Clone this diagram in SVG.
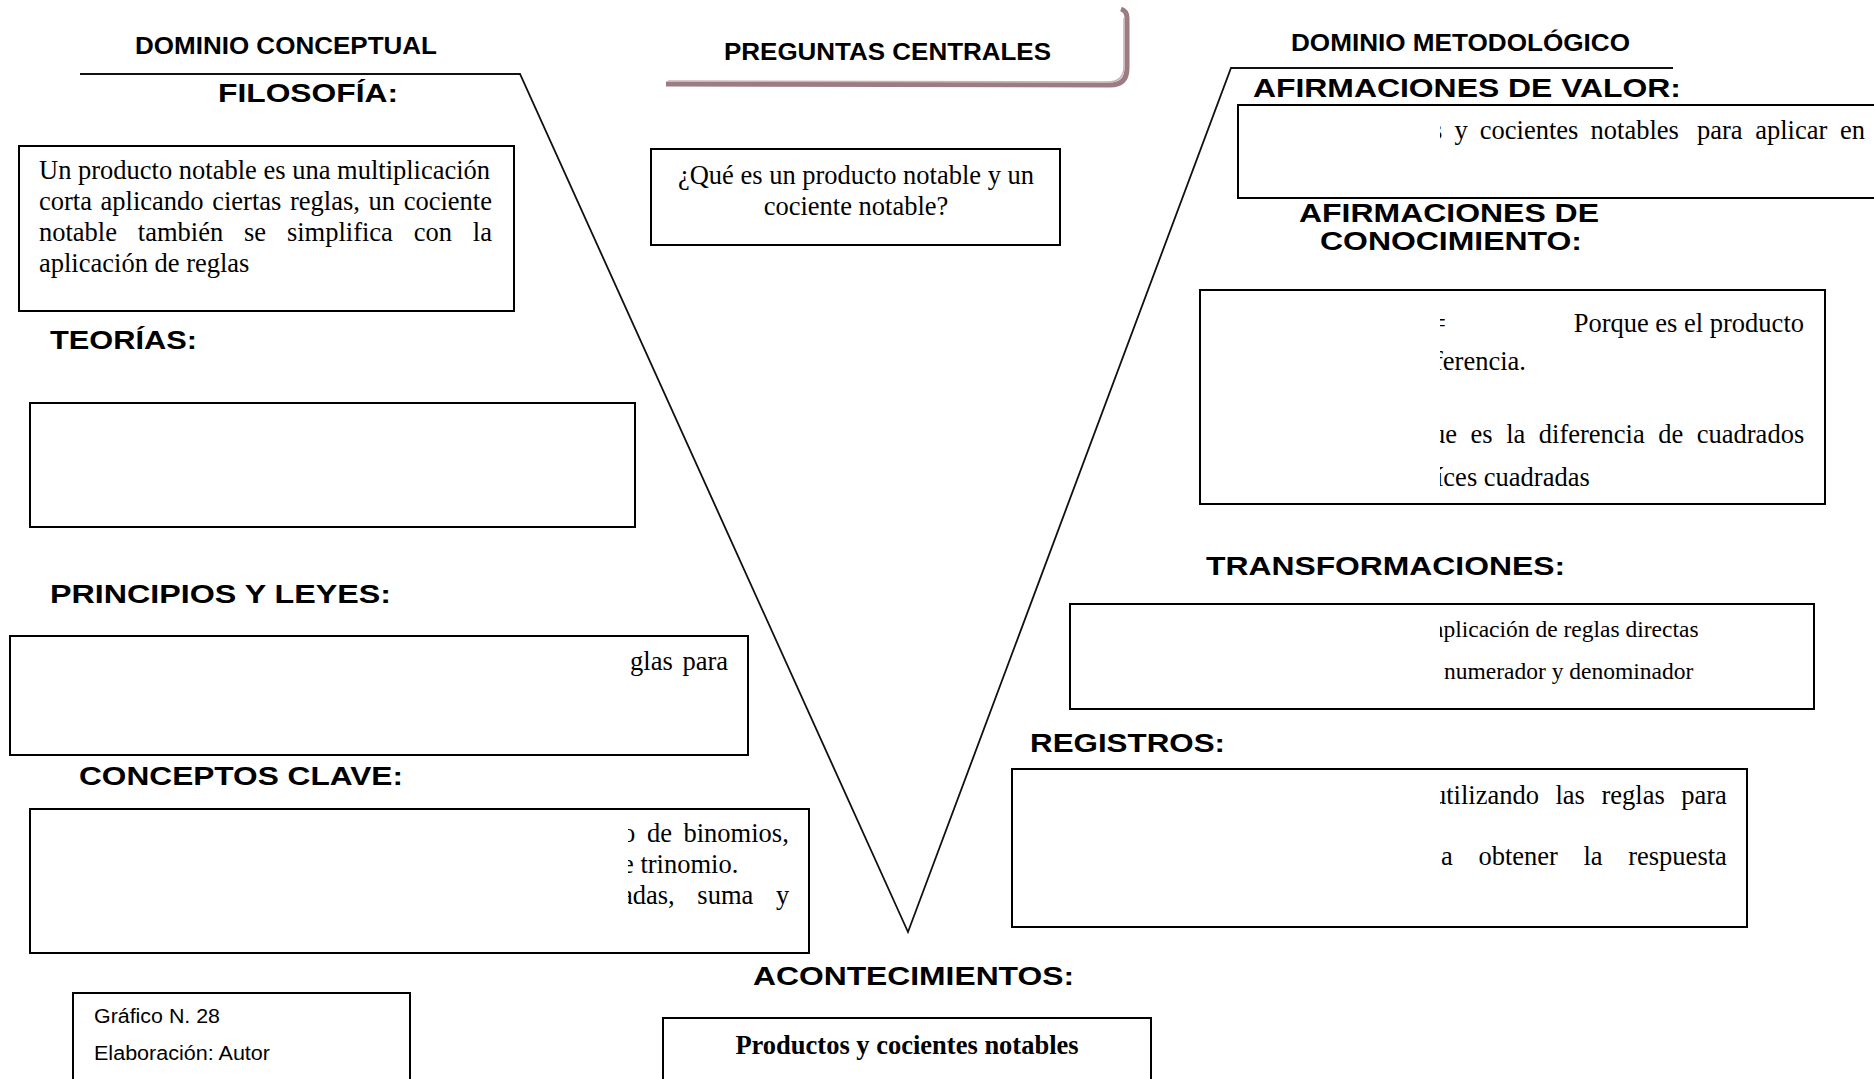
<svg xmlns="http://www.w3.org/2000/svg" width="1874" height="1079" viewBox="0 0 1874 1079">
<style>
.hd{font-family:"Liberation Sans",Arial,sans-serif;font-weight:bold;fill:#000}
.tx{font-family:"Liberation Serif","Times New Roman",serif;font-size:26.5px;fill:#000}
.sm{font-family:"Liberation Serif","Times New Roman",serif;font-size:23.5px;fill:#000}
.sn{font-family:"Liberation Sans",Arial,sans-serif;font-size:20px;fill:#000}
.box{fill:#fff;stroke:#000;stroke-width:2}
.vline{fill:none;stroke:#111;stroke-width:1.8}
</style>
<defs>
<clipPath id="clipL"><rect x="628" y="0" width="400" height="1079"/></clipPath>
<clipPath id="clipR"><rect x="1440" y="0" width="440" height="1079"/></clipPath>
</defs>
<rect x="0" y="0" width="1874" height="1079" fill="#fff"/>

<g id="connectors">
<polyline class="vline" points="80,74 520,74 908,932 1231,68 1673,68"/>
</g>

<g id="dominio-conceptual">
<text class="hd" x="135" y="54" font-size="23" textLength="302" lengthAdjust="spacingAndGlyphs">DOMINIO CONCEPTUAL</text>
</g>

<g id="preguntas-centrales">
<path d="M666,84 L1110,85 Q1127,85 1127,68 L1127,18 Q1127,11 1121,9" fill="none" stroke="#9c7c82" stroke-width="5"/>
<path d="M668,81 L1108,82 Q1124,82 1124,66 L1124,18" fill="none" stroke="#c9b3b6" stroke-width="1.5"/>
<text class="hd" x="724" y="60" font-size="23" textLength="327" lengthAdjust="spacingAndGlyphs">PREGUNTAS CENTRALES</text>
</g>

<g id="dominio-metodologico">
<text class="hd" x="1291" y="51" font-size="23" textLength="339" lengthAdjust="spacingAndGlyphs">DOMINIO METODOLÓGICO</text>
</g>

<g id="filosofia">
<text class="hd" x="218" y="102" font-size="26" textLength="180" lengthAdjust="spacingAndGlyphs">FILOSOFÍA:</text>
<rect class="box" x="19" y="146" width="495" height="165"/>
<text class="tx" x="39" y="179">Un producto notable es una multiplicación</text>
<text class="tx" x="39" y="210" word-spacing="2">corta aplicando ciertas reglas, un cociente</text>
<text class="tx" x="39" y="241" word-spacing="14.2">notable también se simplifica con la</text>
<text class="tx" x="39" y="272">aplicación de reglas</text>
</g>

<g id="pregunta">
<rect class="box" x="651" y="149" width="409" height="96"/>
<text class="tx" x="856" y="184" text-anchor="middle">¿Qué es un producto notable y un</text>
<text class="tx" x="856" y="215" text-anchor="middle">cociente notable?</text>
</g>

<g id="teorias">
<text class="hd" x="50" y="349" font-size="26" textLength="147" lengthAdjust="spacingAndGlyphs">TEORÍAS:</text>
<rect class="box" x="30" y="403" width="605" height="124"/>
</g>

<g id="principios">
<text class="hd" x="50" y="603" font-size="26" textLength="341" lengthAdjust="spacingAndGlyphs">PRINCIPIOS Y LEYES:</text>
<rect class="box" x="10" y="636" width="738" height="119"/>
<text class="tx" x="728" y="670" text-anchor="end" word-spacing="3">glas para</text>
</g>

<g id="conceptos">
<text class="hd" x="79" y="785" font-size="26" textLength="324" lengthAdjust="spacingAndGlyphs">CONCEPTOS CLAVE:</text>
<rect class="box" x="30" y="809" width="779" height="144"/>
<g clip-path="url(#clipL)">
<text class="tx" x="622" y="842" word-spacing="5">o de binomios,</text>
<text class="tx" x="622" y="873">e trinomio.</text>
<text class="tx" x="621" y="904" word-spacing="16">adas, suma y</text>
</g>
</g>

<g id="acontecimientos">
<text class="hd" x="753" y="985" font-size="26" textLength="321" lengthAdjust="spacingAndGlyphs">ACONTECIMIENTOS:</text>
<rect class="box" x="663" y="1018" width="488" height="70"/>
<text class="tx" x="907" y="1054" text-anchor="middle" font-weight="bold">Productos y cocientes notables</text>
</g>

<g id="grafico">
<rect class="box" x="73" y="993" width="337" height="95"/>
<text class="sn" x="94" y="1023" textLength="126" lengthAdjust="spacingAndGlyphs">Gráfico N. 28</text>
<text class="sn" x="94" y="1060" textLength="176" lengthAdjust="spacingAndGlyphs">Elaboración: Autor</text>
</g>

<g id="afirmaciones-valor">
<text class="hd" x="1253" y="97" font-size="26" textLength="428" lengthAdjust="spacingAndGlyphs">AFIRMACIONES DE VALOR:</text>
<rect class="box" x="1238" y="105" width="650" height="93"/>
<g clip-path="url(#clipR)">
<text class="tx" x="1432" y="139" word-spacing="5.5">s y cocientes notables</text>
<text class="tx" x="1697" y="139" word-spacing="6">para aplicar en</text>
</g>
</g>

<g id="afirmaciones-conocimiento">
<text class="hd" x="1299" y="222" font-size="26" textLength="300" lengthAdjust="spacingAndGlyphs">AFIRMACIONES DE</text>
<text class="hd" x="1320" y="250" font-size="26" textLength="262" lengthAdjust="spacingAndGlyphs">CONOCIMIENTO:</text>
<rect class="box" x="1200" y="290" width="625" height="214"/>
<g clip-path="url(#clipR)">
<text class="tx" x="1431" y="332">=</text>
<text class="tx" x="1804" y="332" text-anchor="end">Porque es el producto</text>
<text class="tx" x="1434" y="370">ferencia.</text>
<text class="tx" x="1432" y="443" word-spacing="6.9">ue es la diferencia de cuadrados</text>
<text class="tx" x="1436" y="486">íces cuadradas</text>
</g>
</g>

<g id="transformaciones">
<text class="hd" x="1206" y="575" font-size="26" textLength="359" lengthAdjust="spacingAndGlyphs">TRANSFORMACIONES:</text>
<rect class="box" x="1070" y="604" width="744" height="105"/>
<g clip-path="url(#clipR)">
<text class="sm" x="1433" y="637">aplicación de reglas directas</text>
<text class="sm" x="1444" y="679">numerador y denominador</text>
</g>
</g>

<g id="registros">
<text class="hd" x="1030" y="752" font-size="26" textLength="195" lengthAdjust="spacingAndGlyphs">REGISTROS:</text>
<rect class="box" x="1012" y="769" width="735" height="158"/>
<g clip-path="url(#clipR)">
<text class="tx" x="1433" y="804" word-spacing="9.9">utilizando las reglas para</text>
<text class="tx" x="1441" y="865" word-spacing="19">a obtener la respuesta</text>
</g>
</g>
</svg>
